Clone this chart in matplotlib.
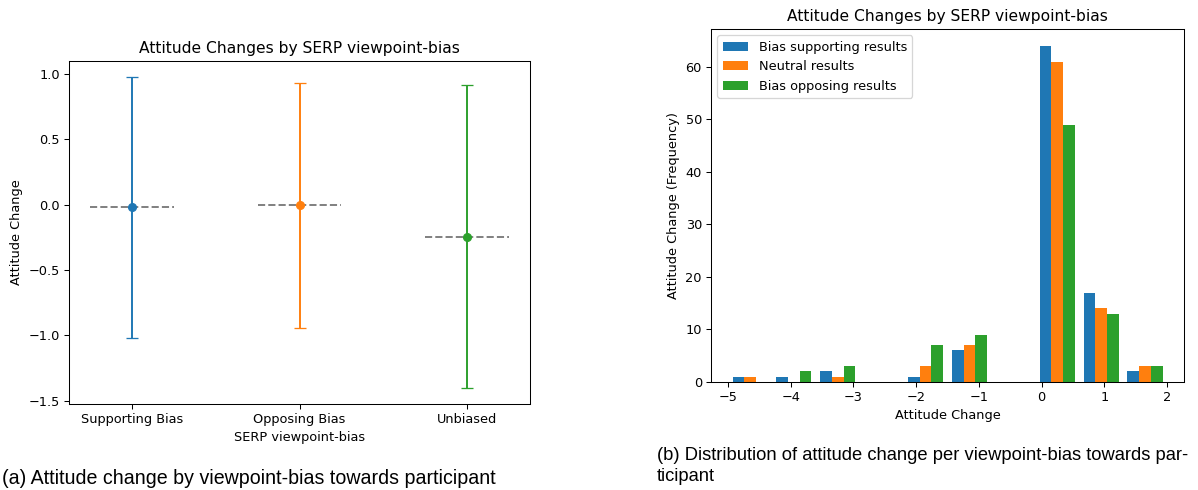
import numpy as np
import matplotlib
matplotlib.use("Agg")
import matplotlib.pyplot as plt

# ── mean attitude change per SERP viewpoint-bias (mean ± sd) ──
bias_groups = ["Supporting Bias", "Opposing Bias", "Unbiased"]
group_means = [-0.02, -0.005, -0.245]
group_sd = [1.0, 0.936, 1.161]
group_colors = ["#1f77b4", "#ff7f0e", "#2ca02c"]

# ── attitude change histogram, 10 bins over [-5, 2] ──
bin_edges = [-5.0, -4.3, -3.6, -2.9, -2.2, -1.5, -0.8, -0.1, 0.6, 1.3, 2.0]
counts_supporting = [1, 1, 2, 0, 1, 6, 0, 64, 17, 2]
counts_neutral = [1, 0, 1, 0, 3, 7, 0, 61, 14, 3]
counts_opposing = [0, 2, 3, 0, 7, 9, 0, 49, 13, 3]
series_labels = ["Bias supporting results", "Neutral results", "Bias opposing results"]

DPI = 93
fig = plt.figure(figsize=(1198 / DPI, 490 / DPI), dpi=DPI, facecolor="white")

# (a) mean ± sd per group
ax1 = fig.add_axes([69 / 1198, 1 - 404 / 490, 461 / 1198, 343 / 490])
xpos = np.arange(len(bias_groups))
for i, (m, sd, c) in enumerate(zip(group_means, group_sd, group_colors)):
    ax1.hlines(m, xpos[i] - 0.25, xpos[i] + 0.25, colors="gray",
               linestyles="--", linewidth=1.5, zorder=1)
    ax1.errorbar(xpos[i], m, yerr=sd, fmt="o", color=c, capsize=5, zorder=2)
ax1.set_xticks(xpos)
ax1.set_xticklabels(bias_groups)
ax1.set_xlabel("SERP viewpoint-bias")
ax1.set_ylabel("Attitude Change")
ax1.set_title("Attitude Changes by SERP viewpoint-bias")

# (b) grouped histogram
ax2 = fig.add_axes([711 / 1198, 1 - 382 / 490, 473 / 1198, 353 / 490])
edges = np.array(bin_edges)
mids = (edges[:-1] + edges[1:]) / 2
ax2.hist([mids, mids, mids], bins=edges,
         weights=[counts_supporting, counts_neutral, counts_opposing],
         label=series_labels)
ax2.legend(loc="upper left")
ax2.set_xlabel("Attitude Change")
ax2.set_ylabel("Attitude Change (Frequency)")
ax2.set_title("Attitude Changes by SERP viewpoint-bias")

# sub-figure captions
fig.text(2 / 1198, 1 - 478 / 490, "(a) Attitude change by viewpoint-bias towards participant",
         ha="left", va="center", family="Liberation Sans", fontsize=15.2, color="black")
fig.text(657 / 1198, 1 - 447 / 490,
         "(b) Distribution of attitude change per viewpoint-bias towards par-\nticipant",
         ha="left", va="top", linespacing=1.3,
         family="Liberation Sans", fontsize=14.2, color="black")

fig.savefig("out.png", dpi=DPI, facecolor="white")
